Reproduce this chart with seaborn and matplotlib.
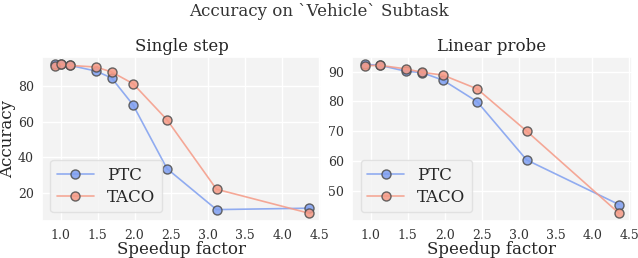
import matplotlib
matplotlib.use("Agg")
import matplotlib.pyplot as plt
import seaborn as sns
import pandas as pd

speedup_single = [0.92, 1.0, 1.13, 1.48, 1.69, 1.98, 2.44, 3.11, 4.36]
ptc_single = [92.4, 92.5, 91.8, 88.6, 84.7, 69.5, 33.5, 10.4, 11.2]
taco_single = [91.6, 92.5, 91.8, 90.9, 88.1, 81.5, 61.1, 21.9, 8.4]

speedup_probe = [0.92, 1.13, 1.48, 1.69, 1.98, 2.44, 3.11, 4.36]
ptc_probe = [92.5, 92.1, 90.1, 89.7, 87.1, 79.9, 60.3, 45.3]
taco_probe = [92.0, 92.1, 90.9, 89.8, 88.8, 84.2, 70.0, 42.4]

methods = ["PTC", "TACO"]
panel_titles = ["Single step", "Linear probe"]

sns.set_theme(style="darkgrid", rc={"axes.facecolor": "#f3f3f3", "grid.color": "white"})
plt.rcParams["font.family"] = ["DejaVu Serif"]

palette = {"PTC": "#7f9ff0", "TACO": "#f59a86"}

def make_df(x, a, b):
    return pd.DataFrame({
        "Speedup factor": list(x) + list(x),
        "Accuracy": list(a) + list(b),
        "Method": [methods[0]] * len(x) + [methods[1]] * len(x),
    })

dfs = [make_df(speedup_single, ptc_single, taco_single),
       make_df(speedup_probe, ptc_probe, taco_probe)]

fig, axes = plt.subplots(1, 2, figsize=(6.38, 2.58), dpi=100)
for i, (ax, df) in enumerate(zip(axes, dfs)):
    sns.lineplot(data=df, x="Speedup factor", y="Accuracy", hue="Method",
                 palette=palette, marker="o", markersize=6.5, alpha=0.85,
                 markeredgewidth=1.0, linewidth=1.2, ax=ax, sort=False)
    for line in ax.lines:
        fc = line.get_color()
        line.set_markerfacecolor(matplotlib.colors.to_rgba(fc, 0.75))
        line.set_markeredgecolor((0.3, 0.3, 0.3, 0.5))
    ax.set_title(panel_titles[i], fontsize=12, pad=4)
    ax.set_xlabel("Speedup factor", fontsize=12, labelpad=-1)
    ax.set_ylabel("Accuracy" if i == 0 else "", fontsize=12, labelpad=1)
    ax.set_xticks([1.0, 1.5, 2.0, 2.5, 3.0, 3.5, 4.0, 4.5])
    ax.tick_params(axis="both", labelsize=9, pad=0, colors="#333333")
    leg = ax.legend(loc="lower left", fontsize=12, frameon=True, title=None,
                    handlelength=2.2, borderpad=0.4, labelspacing=0.3)
    leg.get_frame().set_facecolor("#f3f3f3")
    leg.get_frame().set_edgecolor("#dddddd")

axes[0].set_yticks([20, 40, 60, 80])
axes[1].set_yticks([50, 60, 70, 80, 90])

fig.suptitle("Accuracy on `Vehicle` Subtask", fontsize=12, y=0.99, color="#333333")
fig.subplots_adjust(left=0.066, right=0.99, top=0.78, bottom=0.145, wspace=0.11)
fig.savefig("out.png", dpi=100)
